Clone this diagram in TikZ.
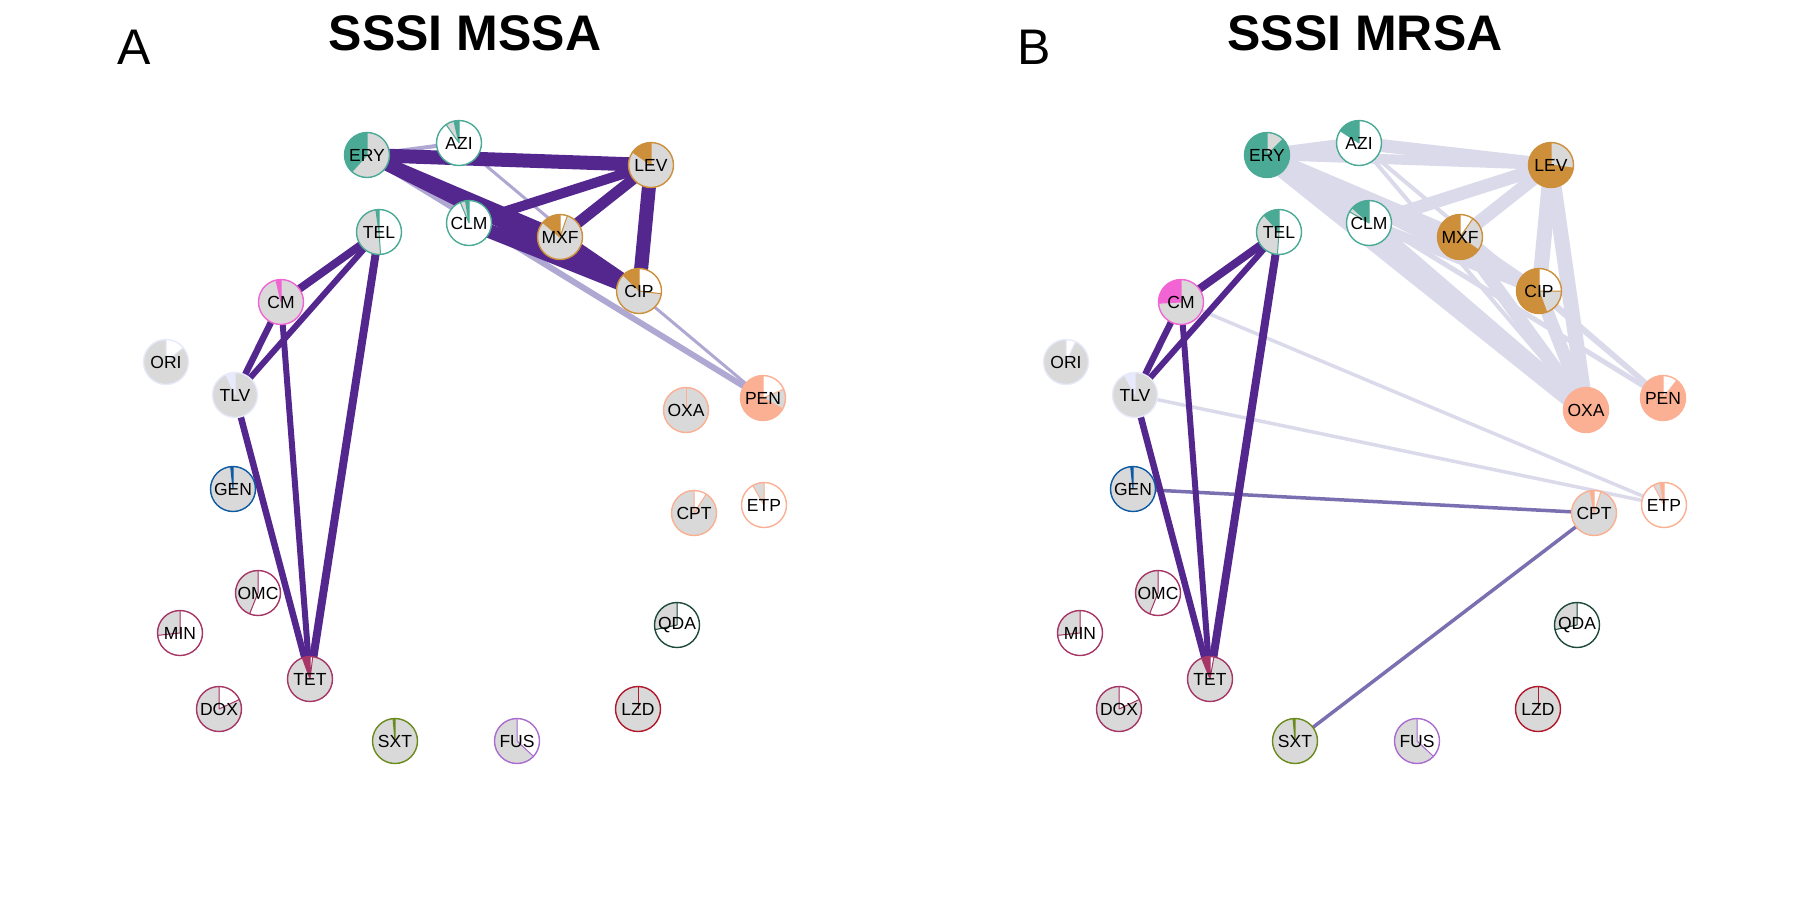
\documentclass[tikz,border=0pt]{standalone}
\usepackage{fontspec}
\setmainfont{Liberation Sans}
\definecolor{teal1}{HTML}{4AAA95}
\definecolor{fq}{HTML}{CD8F3A}
\definecolor{bl}{HTML}{FBB093}
\definecolor{cmpink}{HTML}{F264D4}
\definecolor{lav}{HTML}{E6EAFA}
\definecolor{genblue}{HTML}{0C5AA3}
\definecolor{tetc}{HTML}{A63665}
\definecolor{sxtc}{HTML}{6A8B1B}
\definecolor{fusc}{HTML}{A96DCF}
\definecolor{qdac}{HTML}{1E4A3B}
\definecolor{lzdc}{HTML}{B2182B}
\definecolor{piegray}{HTML}{D9D9D9}
\definecolor{edark}{HTML}{54278F}
\definecolor{elightA}{HTML}{AFA8D3}
\definecolor{emid}{HTML}{7A6FB0}
\definecolor{elightB}{HTML}{DADAEB}
\pgfdeclarelayer{bg}
\pgfsetlayers{bg,main}
\tikzset{
  pienode/.style={circle, minimum size=45pt, inner sep=0pt, outer sep=0pt, line width=1.4pt,
    font=\fontsize{17.5}{17.5}\selectfont, text=black},
  edk/.style={draw=edark},
  elA/.style={draw=elightA},
  emd/.style={draw=emid},
  elB/.style={draw=elightB},
  ttl/.style={font=\bfseries\fontsize{50}{50}\selectfont, anchor=base},
  plabel/.style={font=\fontsize{50}{50}\selectfont, anchor=base},
}
% #1 name, #2 x, #3 y, #4 label, #5 colour, #6 end of coloured slice, #7 end of grey slice
\newcommand{\pienode}[7]{%
  \coordinate (#1-c) at (#2,-#3);
  \fill[white] (#1-c) circle[radius=22.5pt];
  \fill[#5] (#1-c) -- ++(90:22.5pt) arc[start angle=90,end angle=#6,radius=22.5pt] -- cycle;
  \fill[piegray] (#1-c) -- ++(#6:22.5pt) arc[start angle=#6,end angle=#7,radius=22.5pt] -- cycle;
  \draw[#5,line width=1pt] (#1-c) -- ++(90:22.5pt) (#1-c) -- ++(#6:22.5pt) (#1-c) -- ++(#7:22.5pt);
  \node[pienode,draw=#5] (#1) at (#1-c) {#4};
}
\begin{document}
\begin{tikzpicture}[x=1pt,y=1pt]
\useasboundingbox (0,0) rectangle (1800,-900);
% titles
\node[plabel] (labA) at (134,-64) {A};
\node[ttl] (titA) at (465,-50.5) {SSSI MSSA};
\node[plabel] (labB) at (1034,-64) {B};
\node[ttl] (titB) at (1365,-50.5) {SSSI MRSA};

% ---------- Panel A nodes ----------
\pienode{A-ERY}{367}{155}{ERY}{teal1}{228}{450}
\pienode{A-AZI}{459}{143}{AZI}{teal1}{103}{125}
\pienode{A-LEV}{651}{165}{LEV}{fq}{145}{450}
\pienode{A-TEL}{379}{232}{TEL}{teal1}{98}{274}
\pienode{A-CLM}{469}{223}{CLM}{teal1}{99}{113}
\pienode{A-MXF}{560}{237}{MXF}{fq}{140}{431}
\pienode{A-CIP}{639}{291}{CIP}{fq}{135}{353}
\pienode{A-CM}{281}{302}{CM}{cmpink}{103}{450}
\pienode{A-ORI}{166}{362}{ORI}{lav}{90}{400}
\pienode{A-TLV}{235}{395}{TLV}{lav}{114}{450}
\pienode{A-PEN}{763}{398}{PEN}{bl}{331}{383}
\pienode{A-OXA}{686}{410}{OXA}{bl}{90}{450}
\pienode{A-GEN}{233}{489}{GEN}{genblue}{96}{450}
\pienode{A-CPT}{694}{513}{CPT}{bl}{90}{417}
\pienode{A-ETP}{764}{505}{ETP}{bl}{90}{120}
\pienode{A-OMC}{258}{593}{OMC}{tetc}{90}{248}
\pienode{A-MIN}{180}{633}{MIN}{tetc}{90}{186}
\pienode{A-QDA}{677}{625}{QDA}{qdac}{90}{192}
\pienode{A-TET}{310}{679}{TET}{tetc}{110}{443}
\pienode{A-DOX}{219}{709}{DOX}{tetc}{90}{385}
\pienode{A-LZD}{638}{709}{LZD}{lzdc}{90}{450}
\pienode{A-SXT}{395}{741}{SXT}{sxtc}{95}{450}
\pienode{A-FUS}{517}{741}{FUS}{fusc}{90}{317}

% ---------- Panel B nodes ----------
\pienode{B-ERY}{1267}{155}{ERY}{teal1}{405}{450}
\pienode{B-AZI}{1359}{143}{AZI}{teal1}{147}{147}
\pienode{B-LEV}{1551}{165}{LEV}{fq}{352}{450}
\pienode{B-TEL}{1279}{232}{TEL}{teal1}{132}{266}
\pienode{B-CLM}{1369}{223}{CLM}{teal1}{138}{150}
\pienode{B-MXF}{1460}{237}{MXF}{fq}{325}{415}
\pienode{B-CIP}{1539}{291}{CIP}{fq}{290}{360}
\pienode{B-CM}{1181}{302}{CM}{cmpink}{183}{450}
\pienode{B-ORI}{1066}{362}{ORI}{lav}{90}{425}
\pienode{B-TLV}{1135}{395}{TLV}{lav}{118}{450}
\pienode{B-PEN}{1663}{398}{PEN}{bl}{412}{412}
\pienode{B-OXA}{1586}{410}{OXA}{bl}{450}{450}
\pienode{B-GEN}{1133}{489}{GEN}{genblue}{96}{450}
\pienode{B-CPT}{1594}{513}{CPT}{bl}{100}{432}
\pienode{B-ETP}{1664}{505}{ETP}{bl}{100}{118}
\pienode{B-OMC}{1158}{593}{OMC}{tetc}{90}{248}
\pienode{B-MIN}{1080}{633}{MIN}{tetc}{90}{186}
\pienode{B-QDA}{1577}{625}{QDA}{qdac}{90}{192}
\pienode{B-TET}{1210}{679}{TET}{tetc}{112}{440}
\pienode{B-DOX}{1119}{709}{DOX}{tetc}{90}{385}
\pienode{B-LZD}{1538}{709}{LZD}{lzdc}{90}{450}
\pienode{B-SXT}{1295}{741}{SXT}{sxtc}{95}{450}
\pienode{B-FUS}{1417}{741}{FUS}{fusc}{90}{317}

\begin{pgfonlayer}{bg}
% ---------- Panel A edges ----------
\draw[elA,line width=4pt] (A-ERY.center) -- (A-AZI.center);
\draw[elA,line width=6pt] (A-ERY.center) -- (A-PEN.center);
\draw[elA,line width=3pt] (A-AZI.center) -- (A-PEN.center);
\draw[edk,line width=14pt] (A-ERY.center) -- (A-LEV.center);
\draw[edk,line width=12pt] (A-ERY.center) -- (A-MXF.center);
\draw[edk,line width=12pt] (A-ERY.center) -- (A-CIP.center);
\draw[edk,line width=10pt] (A-CLM.center) -- (A-LEV.center);
\draw[edk,line width=14pt] (A-CLM.center) -- (A-CIP.center);
\draw[edk,line width=11pt] (A-MXF.center) -- (A-LEV.center);
\draw[edk,line width=13pt] (A-MXF.center) -- (A-CIP.center);
\draw[edk,line width=14pt] (A-LEV.center) -- (A-CIP.center);
\draw[edk,line width=8pt] (A-CM.center) -- (A-TEL.center);
\draw[edk,line width=6pt] (A-TLV.center) -- (A-TEL.center);
\draw[edk,line width=6.5pt] (A-CM.center) -- (A-TLV.center);
\draw[edk,line width=6pt] (A-CM.center) -- (A-TET.center);
\draw[edk,line width=8pt] (A-TEL.center) -- (A-TET.center);
\draw[edk,line width=6.5pt] (A-TLV.center) -- (A-TET.center);
% ---------- Panel B edges ----------
\draw[elB,line width=13pt] (B-ERY.center) -- (B-AZI.center);
\draw[elB,line width=10pt] (B-ERY.center) -- (B-LEV.center);
\draw[elB,line width=13pt] (B-AZI.center) -- (B-LEV.center);
\draw[elB,line width=13pt] (B-ERY.center) -- (B-MXF.center);
\draw[elB,line width=13pt] (B-ERY.center) -- (B-CIP.center);
\draw[elB,line width=20pt] (B-ERY.center) -- (B-OXA.center);
\draw[elB,line width=5pt] (B-ERY.center) -- (B-PEN.center);
\draw[elB,line width=4pt] (B-AZI.center) -- (B-OXA.center);
\draw[elB,line width=4pt] (B-AZI.center) -- (B-PEN.center);
\draw[elB,line width=13pt] (B-CLM.center) -- (B-LEV.center);
\draw[elB,line width=10pt] (B-CLM.center) -- (B-CIP.center);
\draw[elB,line width=15pt] (B-CLM.center) -- (B-OXA.center);
\draw[elB,line width=13pt] (B-MXF.center) -- (B-LEV.center);
\draw[elB,line width=10pt] (B-MXF.center) -- (B-CIP.center);
\draw[elB,line width=13pt] (B-MXF.center) -- (B-OXA.center);
\draw[elB,line width=15pt] (B-LEV.center) -- (B-CIP.center);
\draw[elB,line width=15pt] (B-LEV.center) -- (B-OXA.center);
\draw[elB,line width=13pt] (B-CIP.center) -- (B-OXA.center);
\draw[elB,line width=5.5pt] (B-CIP.center) -- (B-PEN.center);
\draw[elB,line width=3.5pt] (B-CM.center) -- (B-ETP.center);
\draw[elB,line width=3.5pt] (B-TLV.center) -- (B-ETP.center);
\draw[emd,line width=3.5pt] (B-GEN.center) -- (B-CPT.center);
\draw[emd,line width=3.5pt] (B-SXT.center) -- (B-CPT.center);
\draw[edk,line width=8pt] (B-CM.center) -- (B-TEL.center);
\draw[edk,line width=6pt] (B-TLV.center) -- (B-TEL.center);
\draw[edk,line width=6.5pt] (B-CM.center) -- (B-TLV.center);
\draw[edk,line width=6pt] (B-CM.center) -- (B-TET.center);
\draw[edk,line width=8pt] (B-TEL.center) -- (B-TET.center);
\draw[edk,line width=6.5pt] (B-TLV.center) -- (B-TET.center);
\end{pgfonlayer}
\end{tikzpicture}
\end{document}
